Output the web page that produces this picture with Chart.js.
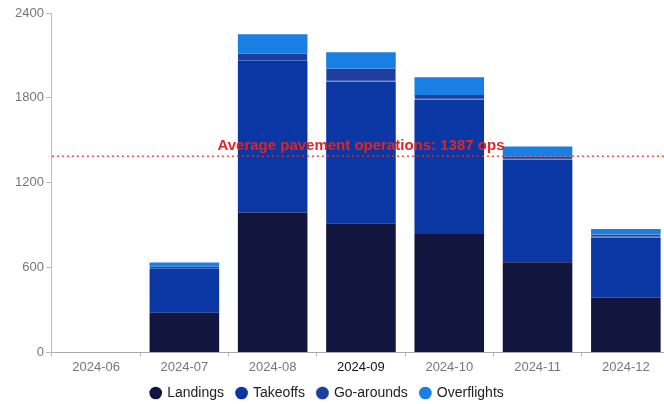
<!DOCTYPE html>
<html>
<head>
<meta charset="utf-8">
<script src="https://cdn.jsdelivr.net/npm/chart.js@4.4.1/dist/chart.umd.min.js"></script>
<style>
  html, body { margin: 0; padding: 0; background: #fff; overflow: hidden; }
  #wrap { position: relative; width: 670px; height: 404px; }
</style>
</head>
<body>
<div id="wrap"><canvas id="chart"></canvas></div>
<script>
// Monthly pavement operations by type
const months = ['2024-06', '2024-07', '2024-08', '2024-09', '2024-10', '2024-11', '2024-12'];
const landings    = [0, 280, 990, 910, 838, 637, 386];
const takeoffs    = [0, 310, 1070, 1004, 948, 725, 427];
const goArounds   = [0, 15, 56, 92, 35, 22, 20];
const overflights = [0, 30, 134, 117, 125, 72, 40];
const yTicks = [0, 600, 1200, 1800, 2400];
const averageOps = 1387;
const averageLabel = 'Average pavement operations: ' + averageOps + ' ops';
const highlightedMonth = '2024-09';

const FONT = '"Liberation Sans", Arial, sans-serif';

// Dotted average line with its caption, drawn over the bars
const averageLine = {
  id: 'averageLine',
  afterDatasetsDraw(chart) {
    const { ctx, chartArea, scales } = chart;
    const y = scales.y.getPixelForValue(averageOps);
    ctx.save();
    ctx.strokeStyle = 'rgba(226, 50, 50, 0.85)';
    ctx.lineWidth = 1.5;
    ctx.setLineDash([2, 3]);
    ctx.beginPath();
    ctx.moveTo(chartArea.left, y);
    ctx.lineTo(chartArea.right, y);
    ctx.stroke();
    ctx.setLineDash([]);
    ctx.fillStyle = '#e02424';
    ctx.font = 'bold 15px ' + FONT;
    ctx.textAlign = 'center';
    ctx.textBaseline = 'bottom';
    ctx.fillText(averageLabel, (chartArea.left + chartArea.right) / 2, y - 3);
    ctx.restore();
  }
};

// Nudge the legend so it sits centred under the visible part of the plot
const legendShift = {
  id: 'legendShift',
  beforeDraw(chart) {
    const lg = chart.legend;
    if (lg && !lg._shifted) {
      lg.left -= 14; lg.right -= 14;
      lg.top -= 5; lg.bottom -= 5;
      lg._shifted = true;
    }
  },
  afterLayout(chart) {
    if (chart.legend) chart.legend._shifted = false;
  }
};

new Chart(document.getElementById('chart'), {
  type: 'bar',
  data: {
    labels: months,
    datasets: [
      { label: 'Landings', data: landings, backgroundColor: '#12163f', borderWidth: 0 },
      { label: 'Takeoffs', data: takeoffs, backgroundColor: '#0a37a3', borderWidth: 0 },
      { label: 'Go-arounds', data: goArounds, backgroundColor: '#1f3d9e', borderColor: '#4a74d0',
        borderWidth: { top: 0, right: 0, left: 0, bottom: 1 }, borderSkipped: false },
      { label: 'Overflights', data: overflights, backgroundColor: '#1a7fe2', borderWidth: 0 }
    ]
  },
  options: {
    responsive: true,
    maintainAspectRatio: false,
    animation: false,
    datasets: { bar: { categoryPercentage: 0.8, barPercentage: 0.985 } },
    layout: { padding: { left: 13, top: 13, right: 0, bottom: -11 } },
    plugins: {
      legend: {
        position: 'bottom',
        labels: {
          usePointStyle: true,
          pointStyle: 'circle',
          boxWidth: 9,
          boxHeight: 9,
          padding: 13,
          color: '#222',
          font: { family: FONT, size: 14 }
        }
      },
      tooltip: { enabled: false }
    },
    scales: {
      x: {
        stacked: true,
        grid: { display: true, drawOnChartArea: false, tickLength: 4, color: '#bbb' },
        border: { color: '#aaa' },
        ticks: {
          color: (ctx) => months[ctx.index] === highlightedMonth ? '#111' : '#777',
          font: { family: FONT, size: 13 },
          padding: 3
        }
      },
      y: {
        stacked: true,
        min: 0,
        max: 2400,
        afterBuildTicks(axis) { axis.ticks = yTicks.map(v => ({ value: v })); },
        grid: { display: true, drawOnChartArea: false, tickLength: 6, color: '#bbb' },
        border: { color: '#bbb' },
        ticks: {
          color: '#777',
          font: { family: FONT, size: 13 },
          padding: 2,
          callback: (v) => String(v)
        }
      }
    }
  },
  plugins: [averageLine, legendShift]
});
</script>
</body>
</html>
